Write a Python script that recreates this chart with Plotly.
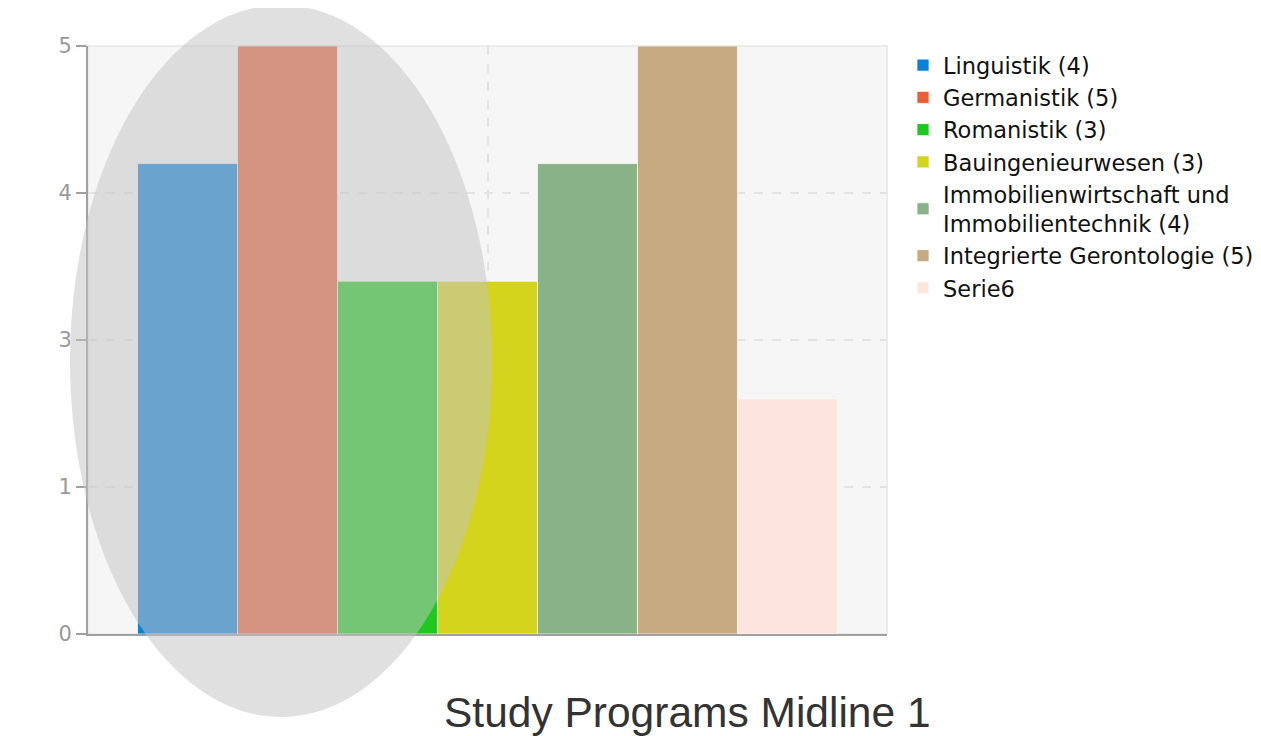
import plotly.graph_objects as go

# ---- data ----
series_names = [
    "Linguistik (4)",
    "Germanistik (5)",
    "Romanistik (3)",
    "Bauingenieurwesen (3)",
    "Immobilienwirtschaft und<br>Immobilientechnik (4)",
    "Integrierte Gerontologie (5)",
    "Serie6",
]
series_values = [4, 5, 3, 3, 4, 5, 2]
category = [""]
tick_vals = [0, 1.25, 2.5, 3.75, 5]
tick_text = ["0", "1", "3", "4", "5"]
chart_title = "Study Programs Midline 1"

# ---- styles ----
colors = ["#0a80d8", "#e8603a", "#1fc81f", "#d4d41c", "#88b388", "#c8aa82", "#fbe5dc"]

fig = go.Figure()
for name, val, col in zip(series_names, series_values, colors):
    fig.add_trace(go.Bar(
        x=category, y=[val], name=name,
        marker=dict(color=col, line=dict(color="rgba(255,255,255,0.7)", width=1)),
    ))

OFF = 8  # page offset of the figure in the browser
W, H = 1253, 728
L, R, T, B = 80, 374, 38, 102
pw, ph = W - L - R, H - T - B

def px_x(p):
    return (p - OFF - L) / pw

def px_y(p):
    return (OFF + T + ph - p) / ph

fig.update_layout(
    width=W, height=H,
    margin=dict(l=L, r=R, t=T, b=B, autoexpand=False),
    paper_bgcolor="white",
    plot_bgcolor="#f6f6f6",
    barmode="group",
    bargap=0.124,
    bargroupgap=0,
    showlegend=True,
    legend=dict(
        x=px_x(903), y=px_y(44), xanchor="left", yanchor="top",
        font=dict(family="DejaVu Sans", size=22.5, color="#111"),
        bgcolor="white", borderwidth=0,
        itemclick=False,
    ),
    xaxis=dict(
        showticklabels=False, ticks="",
        showgrid=True, gridcolor="#e3e3e3", griddash="dash", gridwidth=1.5,
        showline=True, linecolor="#a0a0a0", linewidth=2,
        zeroline=False,
    ),
    yaxis=dict(
        range=[0, 5], tickvals=tick_vals, ticktext=tick_text,
        ticks="outside", ticklen=10, tickcolor="#a0a0a0", tickwidth=2,
        tickfont=dict(family="DejaVu Sans", size=21, color="#999"),
        showgrid=True, gridcolor="#e3e3e3", griddash="dash", gridwidth=1.5,
        showline=True, linecolor="#a0a0a0", linewidth=2,
        zeroline=False,
    ),
    shapes=[
        dict(type="rect", xref="paper", yref="paper", x0=0, x1=1, y0=0, y1=1,
             line=dict(color="#e6e6e6", width=1.5), layer="below"),
        dict(type="circle", xref="paper", yref="paper",
             x0=px_x(70), x1=px_x(492), y0=px_y(717), y1=px_y(5),
             fillcolor="rgba(195,195,195,0.52)", line=dict(width=0), layer="above"),
    ],
    annotations=[
        dict(text=chart_title, xref="paper", yref="paper",
             x=px_x(687), y=px_y(712), xanchor="center", yanchor="middle",
             showarrow=False,
             font=dict(family="Liberation Sans", size=42.5, color="#333")),
    ],
)

fig.write_html("out.html")
